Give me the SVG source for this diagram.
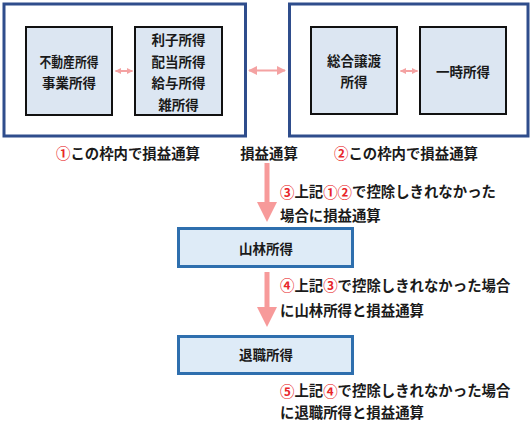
<svg xmlns="http://www.w3.org/2000/svg" width="532" height="421" viewBox="0 0 532 421">
<style>
text{font-family:"Noto Sans CJK JP","Noto Sans",sans-serif;font-weight:700;fill:#1a1a1a;dominant-baseline:central}
.bt{font-size:13.5px;text-anchor:middle}
.lb{font-size:14.4px}
.lbm{font-size:14.4px;text-anchor:middle}
.r{fill:#e8262a}
.frame{fill:#fff;stroke:#2f4d8c;stroke-width:3}
.ibox{fill:#dce6f2;stroke:#111;stroke-width:2}
.bbox{fill:#deebf7;stroke:#2e6fae;stroke-width:3}
.dbl{stroke:#f4a2a2;stroke-width:2;fill:none}
.va{fill:#f79a9a}
</style>
<defs>
<marker id="ah" viewBox="0 0 10 10" refX="9" refY="5" markerWidth="4.5" markerHeight="4.5" orient="auto-start-reverse" markerUnits="strokeWidth">
<path d="M0,0 L10,5 L0,10 z" fill="#f4a2a2"/>
</marker>
<marker id="ahs" viewBox="0 0 10 10" refX="9" refY="5" markerWidth="3.2" markerHeight="3.6" orient="auto-start-reverse" markerUnits="strokeWidth">
<path d="M0,0 L10,5 L0,10 z" fill="#f4a2a2"/>
</marker>
</defs>
<rect width="532" height="421" fill="#fff"/>
<g id="frame1">
<rect class="frame" x="4" y="4" width="241.5" height="132"/>
</g>
<g id="frame2">
<rect class="frame" x="289.5" y="4" width="238.5" height="132"/>
</g>
<g id="node-fudosan">
<rect class="ibox" x="26" y="27" width="86" height="88"/>
<text class="bt" x="69" y="60.5" textLength="59" lengthAdjust="spacingAndGlyphs">不動産所得</text>
<text class="bt" x="69" y="82">事業所得</text>
</g>
<g id="node-rishi">
<rect class="ibox" x="135" y="27" width="87" height="88"/>
<text class="bt" x="178.5" y="38.8">利子所得</text>
<text class="bt" x="178.5" y="60.8">配当所得</text>
<text class="bt" x="178.5" y="82">給与所得</text>
<text class="bt" x="178.5" y="103.5">雑所得</text>
</g>
<g id="node-sogo">
<rect class="ibox" x="311" y="27" width="86" height="87"/>
<text class="bt" x="354" y="60">総合譲渡</text>
<text class="bt" x="354" y="81">所得</text>
</g>
<g id="node-ichiji">
<rect class="ibox" x="420" y="27" width="86" height="87"/>
<text class="bt" x="463" y="71">一時所得</text>
</g>
<g id="node-sanrin">
<rect class="bbox" x="178.5" y="228.5" width="174" height="38"/>
<text class="bt" x="266" y="248.3">山林所得</text>
</g>
<g id="node-taishoku">
<rect class="bbox" x="178.5" y="336.5" width="174" height="37"/>
<text class="bt" x="266" y="353.5">退職所得</text>
</g>
<g id="connectors">
<line class="dbl" x1="115.5" y1="71" x2="132.5" y2="71" marker-start="url(#ahs)" marker-end="url(#ahs)"/>
<line class="dbl" x1="400.5" y1="71" x2="417.5" y2="71" marker-start="url(#ahs)" marker-end="url(#ahs)"/>
<line class="dbl" x1="249" y1="70.5" x2="285" y2="70.5" marker-start="url(#ah)" marker-end="url(#ah)"/>
<polygon class="va" points="264.5,163 269.5,163 269.5,202 277,202 267,222 257,202 264.5,202"/>
<polygon class="va" points="264.5,272 269.5,272 269.5,307 277,307 267,327 257,307 264.5,307"/>
</g>
<g id="labels">
<text class="lb" x="56" y="152"><tspan class="r">①</tspan>この枠内で損益通算</text>
<text class="lbm" x="269" y="152">損益通算</text>
<text class="lb" x="334" y="152"><tspan class="r">②</tspan>この枠内で損益通算</text>
<text class="lb" x="280" y="190.5"><tspan class="r">③</tspan>上記<tspan class="r">①②</tspan>で控除しきれなかった</text>
<text class="lb" x="280" y="214.5">場合に損益通算</text>
<text class="lb" x="280" y="284"><tspan class="r">④</tspan>上記<tspan class="r">③</tspan>で控除しきれなかった場合</text>
<text class="lb" x="280" y="309.5">に山林所得と損益通算</text>
<text class="lb" x="280" y="389.5"><tspan class="r">⑤</tspan>上記<tspan class="r">④</tspan>で控除しきれなかった場合</text>
<text class="lb" x="280" y="411">に退職所得と損益通算</text>
</g>
</svg>
